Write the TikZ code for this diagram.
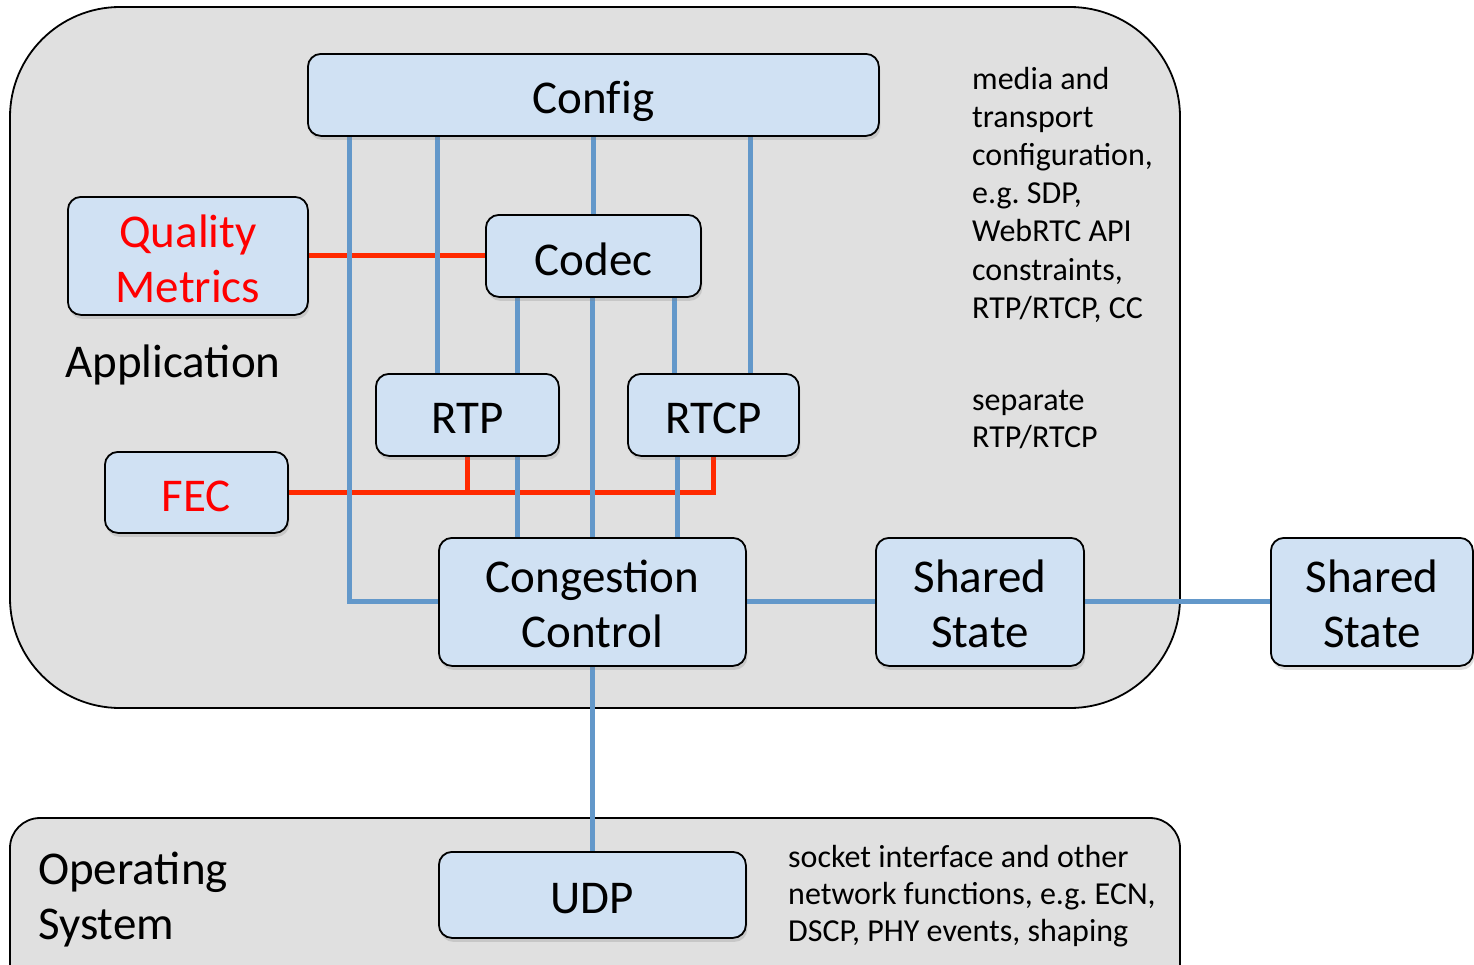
\documentclass[tikz,border=0pt]{standalone}
\usepackage{fontspec}
\setmainfont{Carlito}
\usetikzlibrary{shadows}
\definecolor{boxfill}{HTML}{D0E1F3}
\definecolor{bggray}{HTML}{E0E0E0}
\definecolor{wireblue}{HTML}{6398CA}
\definecolor{wirered}{HTML}{FF2A00}
\definecolor{txtred}{HTML}{FF0000}
\pgfdeclarelayer{back}
\pgfdeclarelayer{wires}
\pgfsetlayers{back,wires,main}
% box text: last baseline placed #1 below the node centre
\newcommand{\bxt}[2]{\raisebox{-#1}[0pt][0pt]{\begin{tabular}[b]{@{}c@{}}#2\end{tabular}}}
% left-aligned block, first baseline on the node's base
\newcommand{\lblock}[1]{\begin{tabular}[t]{@{}l@{}}#1\end{tabular}}
\frenchspacing
\begin{document}
\begin{tikzpicture}[x=1pt,y=-1pt,
  box/.style={draw=black, line width=1.8pt, fill=boxfill, rounded corners=13pt,
    inner sep=0pt, anchor=north west,
    font=\fontsize{47}{55.5}\selectfont,
    drop shadow={shadow xshift=1.5pt, shadow yshift=-4pt, opacity=0.25}},
  area/.style={draw=black, line width=1.8pt, fill=bggray},
  bigtxt/.style={inner sep=0pt, anchor=base west, font=\fontsize{47}{55.5}\selectfont},
  note/.style={inner sep=0pt, anchor=base west, font=\fontsize{32}{38.2}\selectfont},
  bl/.style={draw=wireblue, line width=5pt},
  rd/.style={draw=wirered, line width=5pt}]
\useasboundingbox (0,0) rectangle (1474,964);

% boxes
\node[box, minimum width=571pt, minimum height=82pt] (cfg) at (307,53) {\bxt{19pt}{Conf\kern0pt ig}};
\node[box, minimum width=240pt, minimum height=118pt, text=txtred] (qm) at (67,196) {\bxt{47pt}{Quality\\Metrics}};
\node[box, minimum width=215pt, minimum height=82pt] (codec) at (485,214) {\bxt{20pt}{Codec}};
\node[box, minimum width=183pt, minimum height=82pt] (rtp) at (375,373) {\bxt{19pt}{RTP}};
\node[box, minimum width=171pt, minimum height=82pt] (rtcp) at (627,373) {\bxt{19pt}{RTCP}};
\node[box, minimum width=183pt, minimum height=81pt, text=txtred] (fec) at (104,451) {\bxt{19pt}{FEC}};
\node[box, minimum width=307pt, minimum height=128pt] (cc) at (438,537) {\bxt{46pt}{Congestion\\Control}};
\node[box, minimum width=208pt, minimum height=128pt] (ss1) at (875,537) {\bxt{46pt}{Shared\\State}};
\node[box, minimum width=202pt, minimum height=128pt] (ss2) at (1270,537) {\bxt{46pt}{Shared\\State}};
\node[box, minimum width=307pt, minimum height=86pt] (udp) at (438,851) {\bxt{19pt}{UDP}};

% labels
\node[bigtxt] (app) at (65,377) {Application};
\node[bigtxt] (os) at (38,884) {\lblock{Operating\\System}};
\node[note] (cfgnote) at (972,89) {\lblock{media and\\transport\\configuration,\\e.g. SDP,\\WebRTC API\\constraints,\\RTP/RTCP, CC}};
\node[note, font=\fontsize{32}{37}\selectfont] (sepnote) at (972,410) {\lblock{separate\\RTP/RTCP}};
\node[note, font=\fontsize{32}{37}\selectfont] (osnote) at (788,867.5) {\lblock{socket interface and other\\network functions, e.g. ECN,\\DSCP, PHY events, shaping}};

% background areas
\begin{pgfonlayer}{back}
  \path[area, rounded corners=110pt] (10,7) rectangle (1180,708);
  \begin{scope}
    \clip (0,0) rectangle (1474,964);
    \path[area, rounded corners=30pt] (10,818) rectangle (1180,1010);
  \end{scope}
\end{pgfonlayer}

% connectors
\begin{pgfonlayer}{wires}
  \draw[rd] (qm.east) -- (codec.west);
  \draw[rd] (fec.east) -| (rtcp.south);
  \draw[rd] (rtp.south) -- (rtp.south |- fec.east);
  \draw[bl] ([xshift=-243.5pt]cfg.south) |- (cc.west);
  \draw[bl] ([xshift=-155.5pt]cfg.south) -- ([xshift=-29.5pt]rtp.north);
  \draw[bl] (cfg.south) -- (codec.north);
  \draw[bl] ([xshift=157.5pt]cfg.south) -- ([xshift=37.5pt]rtcp.north);
  \draw[bl] ([xshift=-75.5pt]codec.south) -- ([xshift=50.5pt]rtp.north);
  \draw[bl] (codec.south -| cc.north) -- (cc.north);
  \draw[bl] ([xshift=81.5pt]codec.south) -- ([xshift=-38.5pt]rtcp.north);
  \draw[bl] ([xshift=50.5pt]rtp.south) -- ([xshift=-74.5pt]cc.north);
  \draw[bl] ([xshift=-35.5pt]rtcp.south) -- ([xshift=85.5pt]cc.north);
  \draw[bl] (cc.east) -- (ss1.west);
  \draw[bl] (ss1.east) -- (ss2.west);
  \draw[bl] (cc.south) -- (udp.north);
\end{pgfonlayer}
\end{tikzpicture}
\end{document}
